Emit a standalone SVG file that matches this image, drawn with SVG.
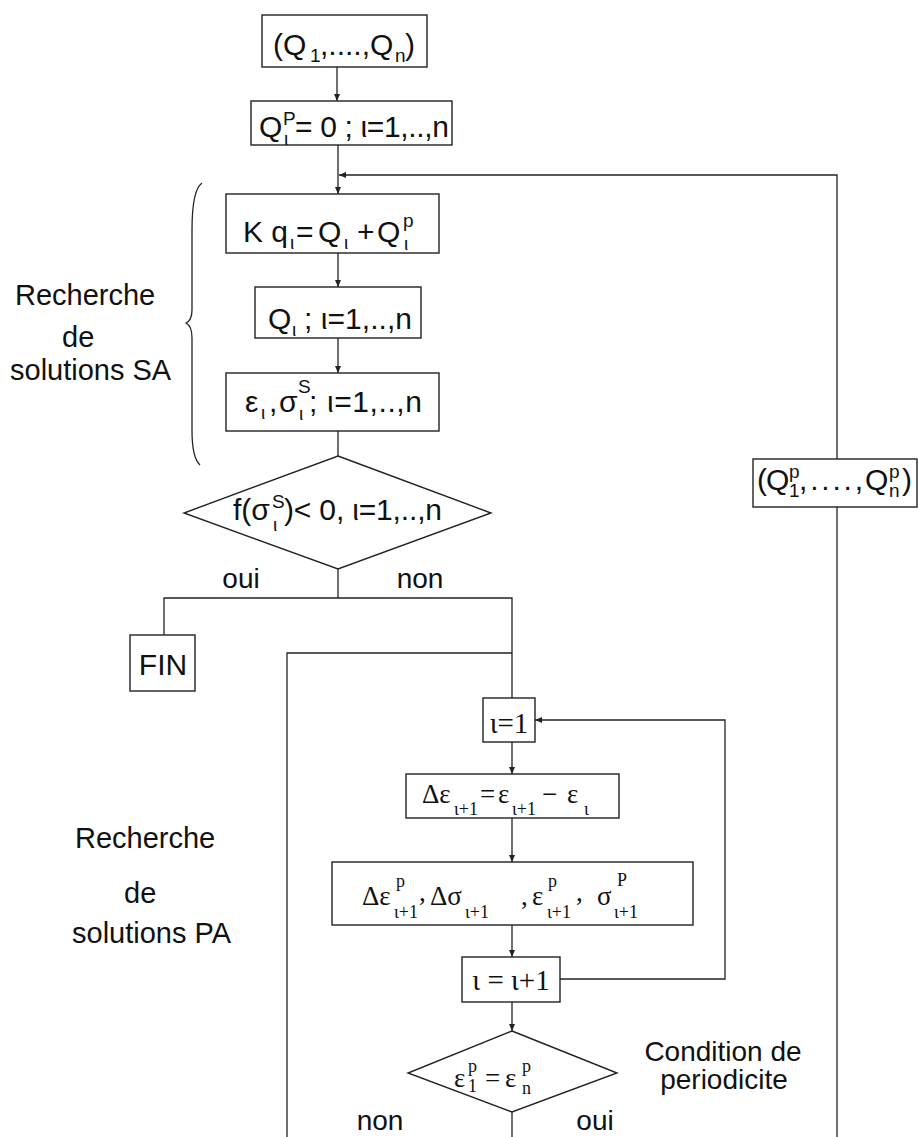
<svg xmlns="http://www.w3.org/2000/svg" width="918" height="1137" viewBox="0 0 918 1137">
<defs>
<marker id="ar" markerWidth="7" markerHeight="6" refX="7" refY="3" orient="auto" markerUnits="userSpaceOnUse"><path d="M0,0 L7,3 L0,6 z" fill="#222"/></marker>
<style>
rect,polygon{fill:#fff;stroke:#222;stroke-width:1.4}
.c line,.c path,.c polyline{fill:none;stroke:#222;stroke-width:1.3}
text{fill:#111;font-family:"Liberation Sans",Arial,sans-serif;font-size:30px}
.s{font-size:19px}
.lbl{font-size:29px}
.yn{font-size:28px}
.sf{font-family:"Liberation Serif","Times New Roman",serif;font-size:27px}
.sf2{font-family:"Liberation Serif","Times New Roman",serif;font-size:18px}
.sf3{font-family:"Liberation Serif","Times New Roman",serif;font-size:29px}
</style>
</defs>
<rect width="918" height="1137" style="fill:#fff;stroke:none"/>

<g class="c" id="connectors">
<line x1="337" y1="67" x2="337" y2="101" marker-end="url(#ar)"/>
<line x1="338" y1="145" x2="338" y2="194" marker-end="url(#ar)"/>
<line x1="338" y1="253" x2="338" y2="287" marker-end="url(#ar)"/>
<line x1="338" y1="338" x2="338" y2="373" marker-end="url(#ar)"/>
<line x1="338" y1="431" x2="338" y2="456"/>
<line x1="338" y1="567" x2="338" y2="598"/>
<polyline points="164,635 164,598 512,598 512,698"/>
<polyline points="287,1137 287,653 512,653"/>
<line x1="512" y1="742" x2="512" y2="774" marker-end="url(#ar)"/>
<line x1="512" y1="818" x2="512" y2="862" marker-end="url(#ar)"/>
<line x1="512" y1="925" x2="512" y2="957" marker-end="url(#ar)"/>
<line x1="512" y1="1002" x2="512" y2="1031" marker-end="url(#ar)"/>
<line x1="512" y1="1112" x2="512" y2="1137"/>
<polyline points="560,979 725,979 725,720 535,720" marker-end="url(#ar)"/>
<polyline points="837,1137 837,507"/>
<polyline points="837,459 837,175 339,175" marker-end="url(#ar)"/>
<path d="M202,183 Q192,190 192,230 L192,310 Q192,320 186,323 Q192,326 192,338 L192,430 Q192,458 200,465"/>
</g>

<g id="n1">
<rect x="262" y="15" width="165" height="52"/>
<text x="273" y="55">(Q</text><text class="s" x="310" y="62">1</text>
<text x="320" y="55">,....,Q</text><text class="s" x="395" y="62">n</text>
<text x="405" y="55">)</text>
</g>

<g id="n2">
<rect x="251" y="101" width="201" height="44"/>
<text x="259" y="137">Q</text><text class="s" x="283" y="125">P</text><text class="s" x="284" y="145">ι</text>
<text x="295" y="137" textLength="154" lengthAdjust="spacing">= 0 ; ι=1,..,n</text>
</g>

<g id="n3">
<rect x="226" y="194" width="213" height="59"/>
<text x="243" y="242">K q</text><text class="s" x="290" y="249">ι</text>
<text x="296" y="242">=</text><text x="318" y="242">Q</text><text class="s" x="344" y="249">ι</text>
<text x="357" y="242">+</text><text x="377" y="242">Q</text><text class="s" x="403" y="227">p</text><text class="s" x="404" y="250">ι</text>
</g>

<g id="n4">
<rect x="255" y="287" width="166" height="51"/>
<text x="268" y="329">Q</text><text class="s" x="292" y="336">ι</text>
<text x="304" y="329" textLength="108" lengthAdjust="spacing">; ι=1,..,n</text>
</g>

<g id="n5">
<rect x="226" y="373" width="213" height="58"/>
<text x="245" y="412">ε</text><text class="s" x="261" y="419">ι</text>
<text x="269" y="412">,</text><text x="279" y="412">σ</text><text class="s" x="298" y="393">S</text><text class="s" x="299" y="420">ι</text>
<text x="309" y="412" textLength="113" lengthAdjust="spacing">; ι=1,..,n</text>
</g>

<g id="d1">
<polygon points="338,456 491,513 338,569 184,513"/>
<text x="233" y="520">f(σ</text><text class="s" x="272" y="508">S</text><text class="s" x="273" y="531">ι</text>
<text x="284" y="520" textLength="158" lengthAdjust="spacing">)&lt; 0, ι=1,..,n</text>
</g>

<g id="nr">
<rect x="753" y="459" width="164" height="48"/>
<text x="757" y="490">(</text><text x="766" y="490">Q</text><text class="s" x="789" y="478">p</text><text class="s" x="789" y="497">1</text>
<text x="799" y="490" textLength="64" lengthAdjust="spacing">,....,</text>
<text x="865" y="490">Q</text><text class="s" x="889" y="478">p</text><text class="s" x="889" y="497">n</text>
<text x="902" y="490">)</text>
</g>

<g id="fin">
<rect x="130" y="635" width="65" height="56"/>
<text x="163" y="675" text-anchor="middle">FIN</text>
</g>

<g id="lbl-oui-non">
<text class="yn" x="241" y="588" text-anchor="middle">oui</text>
<text class="yn" x="420" y="588" text-anchor="middle">non</text>
</g>

<g id="lbl-sa">
<text class="lbl" x="15" y="305">Recherche</text>
<text class="lbl" x="62" y="347">de</text>
<text class="lbl" x="10" y="380">solutions SA</text>
</g>

<g id="lbl-pa">
<text class="lbl" x="75" y="848">Recherche</text>
<text class="lbl" x="124" y="903">de</text>
<text class="lbl" x="72" y="943">solutions PA</text>
</g>

<g id="n6">
<rect x="483" y="698" width="52" height="44"/>
<text class="sf3" x="509" y="733" text-anchor="middle">ι=1</text>
</g>

<g id="n7">
<rect x="406" y="774" width="213" height="44"/>
<text class="sf" x="422" y="803">Δε</text><text class="sf2" x="454" y="815">ι+1</text>
<text class="sf" x="480" y="803">=</text><text class="sf" x="498" y="803">ε</text><text class="sf2" x="512" y="815">ι+1</text>
<text class="sf" x="542" y="803">−</text><text class="sf" x="567" y="803">ε</text><text class="sf2" x="584" y="815">ι</text>
</g>

<g id="n8">
<rect x="332" y="862" width="361" height="63"/>
<text class="sf" x="362" y="905">Δε</text><text class="sf2" x="396" y="887">p</text><text class="sf2" x="394" y="918">ι+1</text>
<text class="sf" x="419" y="901">,</text>
<text class="sf" x="430" y="905">Δσ</text><text class="sf2" x="465" y="918">ι+1</text>
<text class="sf" x="521" y="905">,</text>
<text class="sf" x="532" y="905">ε</text><text class="sf2" x="548" y="887">p</text><text class="sf2" x="547" y="918">ι+1</text>
<text class="sf" x="576" y="901">,</text>
<text class="sf" x="597" y="905">σ</text><text class="sf2" x="617" y="886">P</text><text class="sf2" x="614" y="918">ι+1</text>
</g>

<g id="n9">
<rect x="462" y="957" width="98" height="45"/>
<text class="sf3" x="511" y="990" text-anchor="middle">ι = ι+1</text>
</g>

<g id="d2">
<polygon points="512,1031 617,1073 512,1112 408,1073"/>
<text class="sf" x="454" y="1087">ε</text><text class="sf2" x="468" y="1072">p</text><text class="sf2" x="468" y="1092">1</text>
<text class="sf" x="485" y="1087">=</text>
<text class="sf" x="505" y="1087">ε</text><text class="sf2" x="522" y="1072">p</text><text class="sf2" x="522" y="1094">n</text>
</g>

<g id="lbl-cond">
<text class="yn" x="723" y="1061" text-anchor="middle">Condition de</text>
<text class="yn" x="724" y="1089" text-anchor="middle">periodicite</text>
<text class="yn" x="380" y="1130" text-anchor="middle">non</text>
<text class="yn" x="595" y="1130" text-anchor="middle">oui</text>
</g>
</svg>
